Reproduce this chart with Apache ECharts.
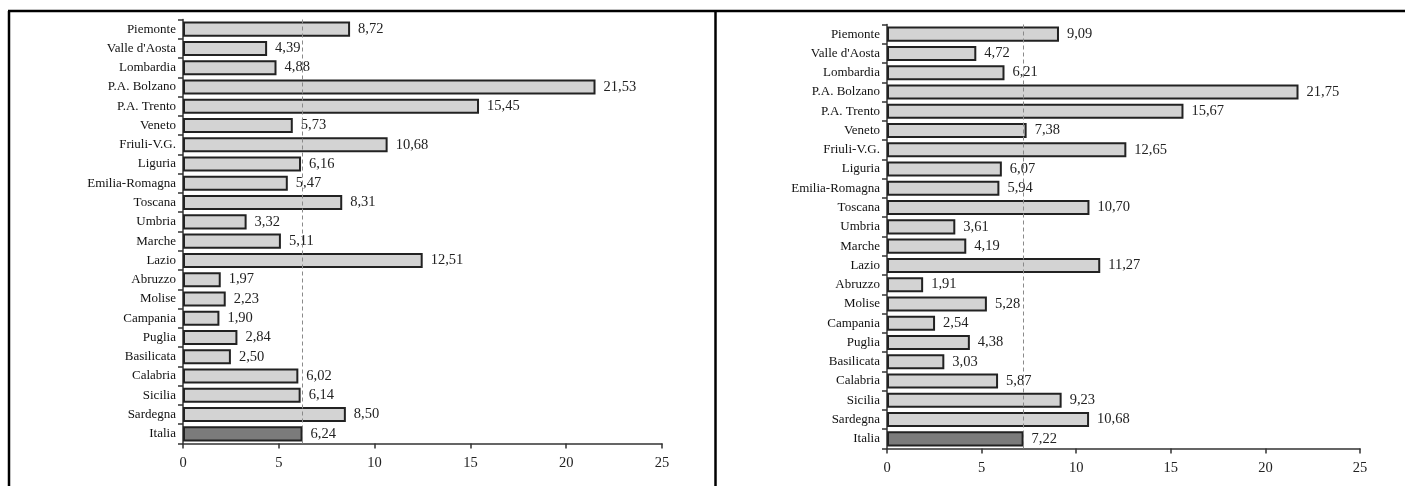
<!DOCTYPE html>
<html>
<head>
<meta charset="utf-8">
<script src="https://cdn.jsdelivr.net/npm/echarts@6/dist/echarts.min.js"></script>
<style>
  html, body { margin: 0; padding: 0; background: #fff; }
  #chart { width: 1405px; height: 486px; }
</style>
</head>
<body>
<div id="chart"></div>
<script>
// regioni (dall'alto in basso)
const regioni = ['Piemonte', "Valle d'Aosta", 'Lombardia', 'P.A. Bolzano', 'P.A. Trento', 'Veneto',
  'Friuli-V.G.', 'Liguria', 'Emilia-Romagna', 'Toscana', 'Umbria', 'Marche', 'Lazio', 'Abruzzo',
  'Molise', 'Campania', 'Puglia', 'Basilicata', 'Calabria', 'Sicilia', 'Sardegna', 'Italia'];

// pannello sinistro
const valoriSx = [8.72, 4.39, 4.88, 21.53, 15.45, 5.73, 10.68, 6.16, 5.47, 8.31, 3.32, 5.11, 12.51,
  1.97, 2.23, 1.90, 2.84, 2.50, 6.02, 6.14, 8.50, 6.24];
// pannello destro
const valoriDx = [9.09, 4.72, 6.21, 21.75, 15.67, 7.38, 12.65, 6.07, 5.94, 10.70, 3.61, 4.19, 11.27,
  1.91, 5.28, 2.54, 4.38, 3.03, 5.87, 9.23, 10.68, 7.22];

const assiX = [0, 5, 10, 15, 20, 25];

const FONT = '"Liberation Serif", "DejaVu Serif", serif';
const fmt = v => v.toFixed(2).replace('.', ',');

const myChart = echarts.init(document.getElementById('chart'));

function serie(valori, idx) {
  const media = valori[valori.length - 1];
  return {
    type: 'bar',
    xAxisIndex: idx,
    yAxisIndex: idx,
    barCategoryGap: '22%',
    data: valori.map((v, i) => ({
      value: v,
      itemStyle: { color: regioni[i] === 'Italia' ? '#7b7b7b' : '#d3d3d3' }
    })),
    itemStyle: { borderColor: '#222', borderWidth: 2 },
    label: {
      show: true,
      position: 'right',
      distance: 8,
      fontFamily: FONT,
      fontSize: 14.5,
      color: '#222',
      formatter: p => fmt(p.value)
    },
    markLine: {
      silent: true,
      symbol: ['none', 'none'],
      label: { show: false },
      lineStyle: { color: '#8a8a8a', type: [4, 3], width: 1 },
      data: [{ xAxis: media }]
    },
    animation: false
  };
}

function assex(idx) {
  return {
    gridIndex: idx,
    type: 'value',
    min: assiX[0],
    max: assiX[assiX.length - 1],
    interval: assiX[1] - assiX[0],
    splitLine: { show: false },
    axisLine: { show: true, lineStyle: { color: '#333', width: 1.5 } },
    axisTick: { show: true, length: 5, lineStyle: { color: '#333', width: 1.5 } },
    axisLabel: { fontFamily: FONT, fontSize: 14.5, color: '#222', margin: 12 }
  };
}

function assey(idx) {
  return {
    gridIndex: idx,
    type: 'category',
    inverse: true,
    data: regioni,
    axisLine: { show: true, lineStyle: { color: '#333', width: 1.5 } },
    axisTick: { show: true, length: 5, lineStyle: { color: '#333', width: 1.5 } },
    axisLabel: { fontFamily: FONT, fontSize: 13, color: '#111', margin: 7 }
  };
}

const option = {
  backgroundColor: '#fff',
  grid: [
    { left: 183, right: 743, top: 19.5, bottom: 42.5 },
    { left: 887, right: 45, top: 24.5, bottom: 37.5 }
  ],
  xAxis: [assex(0), assex(1)],
  yAxis: [assey(0), assey(1)],
  series: [serie(valoriSx, 0), serie(valoriDx, 1)],
  graphic: [
    { type: 'line', shape: { x1: 8, y1: 11, x2: 1405, y2: 11 }, style: { stroke: '#000', lineWidth: 2.5 } },
    { type: 'line', shape: { x1: 9, y1: 11, x2: 9, y2: 486 }, style: { stroke: '#000', lineWidth: 2.5 } },
    { type: 'line', shape: { x1: 715.5, y1: 11, x2: 715.5, y2: 486 }, style: { stroke: '#000', lineWidth: 2.5 } }
  ],
  animation: false
};

myChart.setOption(option);
window.addEventListener('resize', myChart.resize);
</script>
</body>
</html>
